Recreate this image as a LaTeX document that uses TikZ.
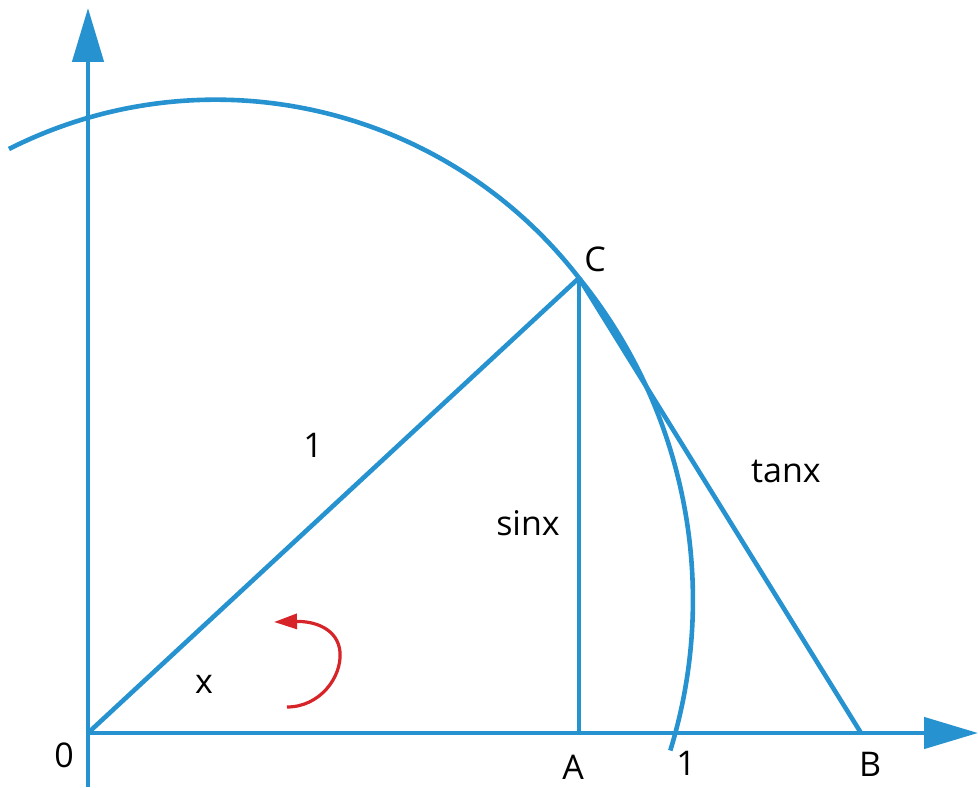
\documentclass[tikz,border=0pt]{standalone}
\usepackage{fontspec}
\setmainfont{Open Sans}
\usetikzlibrary{arrows.meta}
\definecolor{lineblue}{RGB}{38,146,208}
\definecolor{turnred}{RGB}{214,36,40}

\begin{document}
\begin{tikzpicture}[
  x=0.5pt, y=0.5pt,
  font=\fontsize{17}{20}\selectfont,
  geo/.style={draw=lineblue, line width=2.3pt},
  axis/.style={geo, -{Triangle[length=27pt, width=15.5pt]}},
  turn/.style={draw=turnred, line width=1.6pt, -{Triangle[length=11.5pt, width=7.5pt]}},
  lbl/.style={anchor=base, inner sep=0pt}
]
\useasboundingbox (0,0) rectangle (978,787);

% points of the figure
\coordinate (O) at (88,54);
\coordinate (A) at (579,54);
\coordinate (B) at (861,54);
\coordinate (C) at (579,509);
\coordinate (ybot) at (88,0);
\coordinate (ytip) at (88,779);
\coordinate (xtip) at (978,54);

% axes
\draw[axis] (ybot) -- (ytip);
\draw[axis] (O) -- (xtip);

% arcs through C
\draw[geo] (C) arc[start angle=37.7, end angle=116.8, radius=459];
\draw[geo] (C) arc[start angle=38.97, end angle=-17.1, radius=512];

% triangle lines
\draw[geo] (O) -- (C);
\draw[geo] (C) -- (A);
\draw[geo] (C) -- (B);

% turning arrow
\coordinate (t0) at (287,80);
\coordinate (t1) at (340,135);
\coordinate (t2) at (274,165);
\draw[turn] (t0) .. controls (320,80) and (342,110) .. (t1)
  .. controls (338,158) and (315,166) .. (t2);

% labels
\node[lbl] (lO) at (64,20) {0};
\node[lbl] (lx) at (204,94) {x};
\node[lbl] (lr) at (313,329) {1};
\node[lbl] (ls) at (528,252) {sinx};
\node[lbl] (lC) at (595,515) {C};
\node[lbl] (lt) at (786,304) {tanx};
\node[lbl] (lA) at (573,8) {A};
\node[lbl] (l1) at (686,12) {1};
\node[lbl] (lB) at (870,11) {B};
\end{tikzpicture}
\end{document}
